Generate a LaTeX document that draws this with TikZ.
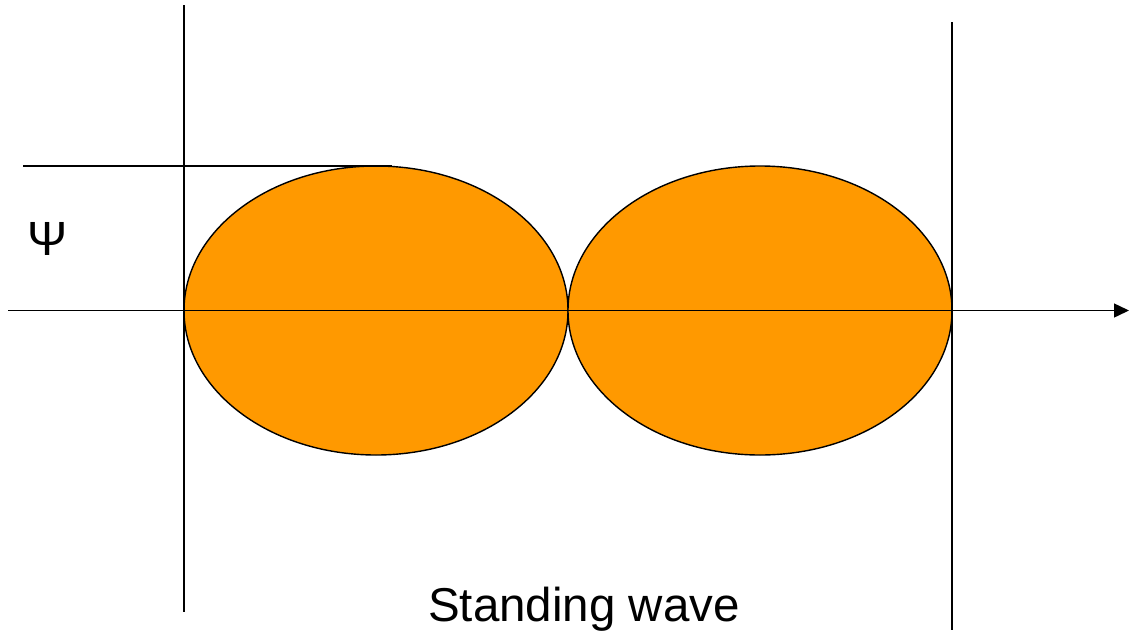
\documentclass[tikz,border=0pt]{standalone}
\usepackage{fontspec}
\setmainfont{Liberation Sans}
\usetikzlibrary{arrows.meta}
\definecolor{lobe}{RGB}{255,153,0}
\begin{document}
\begin{tikzpicture}[x=1pt,y=-1pt,
  thinline/.style={line width=1.4pt,black},
  lobestyle/.style={fill=lobe,draw=black,line width=1.4pt}]
\useasboundingbox (0,0) rectangle (1131,632);
% lobes
\draw[lobestyle] (376,310.5) ellipse [x radius=192, y radius=144.5];
\draw[lobestyle] (760,310.5) ellipse [x radius=192, y radius=144.5];
% walls
\coordinate (lwtop) at (184,5);
\coordinate (lwbot) at (184,612);
\coordinate (rwtop) at (952,22);
\coordinate (rwbot) at (952,630);
\draw[thinline] (lwtop) -- (lwbot);
\draw[thinline] (rwtop) -- (rwbot);
% amplitude line
\coordinate (amp0) at (23,166);
\coordinate (amp1) at (392,166);
\draw[thinline] (amp0) -- (amp1);
% axis
\coordinate (ax0) at (8,310.5);
\coordinate (ax1) at (1129,310.5);
\draw[thinline,-{Triangle[length=15pt,width=14pt]}] (ax0) -- (ax1);
% labels
\node[font=\fontsize{48}{50}\selectfont,inner sep=0pt,anchor=base] (psi) at (48,255) {Ψ};
\node[font=\fontsize{47.5}{50}\selectfont,inner sep=0pt,anchor=base] (title) at (584,621) {Standing wave};
\end{tikzpicture}
\end{document}
